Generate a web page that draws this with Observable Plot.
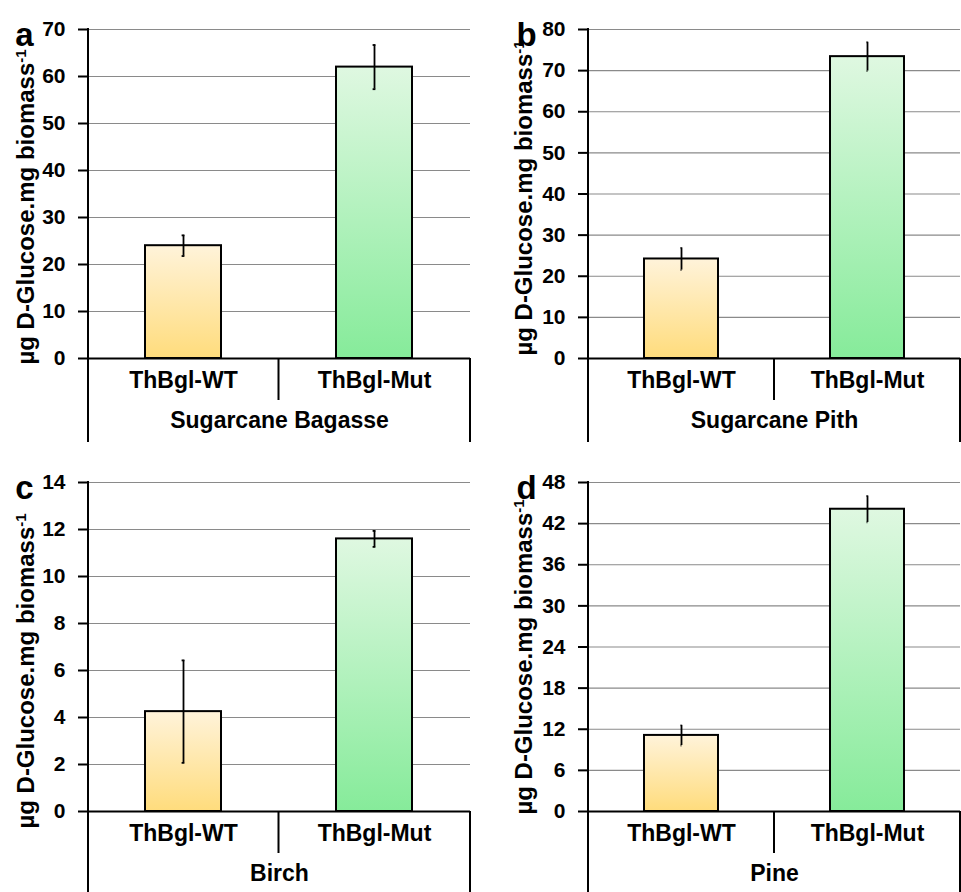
<!DOCTYPE html>
<html>
<head>
<meta charset="utf-8">
<script src="https://cdn.jsdelivr.net/npm/d3@7"></script>
<script src="https://cdn.jsdelivr.net/npm/@observablehq/plot@0.6"></script>
<style>
  html, body { margin: 0; padding: 0; background: #fff; overflow: hidden; }
  #wrap { position: relative; width: 961px; height: 892px; overflow: hidden; }
  .panel { position: absolute; }
  .panel svg { max-width: none !important; }
</style>
</head>
<body>
<div id="wrap"></div>
<script>
// ---- data ----
const categories = ["ThBgl-WT", "ThBgl-Mut"];
const substrates = ["Sugarcane Bagasse", "Sugarcane Pith", "Birch", "Pine"];
const panelLetters = ["a", "b", "c", "d"];
const wtMeans = [24.0, 24.2, 4.25, 11.1];
const wtErrors = [2.2, 2.7, 2.18, 1.47];
const mutMeans = [62.0, 73.4, 11.6, 44.1];
const mutErrors = [4.7, 3.5, 0.34, 1.93];
const yTicksA = [0, 10, 20, 30, 40, 50, 60, 70];
const yTicksB = [0, 10, 20, 30, 40, 50, 60, 70, 80];
const yTicksC = [0, 2, 4, 6, 8, 10, 12, 14];
const yTicksD = [0, 6, 12, 18, 24, 30, 36, 42, 48];
const yTicks = [yTicksA, yTicksB, yTicksC, yTicksD];
const yLabel = "µg D-Glucose.mg biomass";
const yLabelSup = "-1";
const gradWT = ["#fff3da", "#ffdc7c"];
const gradMut = ["#dff8e1", "#86eb9a"];

// ---- layout ----
const layout = [
  {left: 0,   top: 0,   width: 480, height: 446, mt: 29, mb: 88, ml: 88,  lineInset: 4, labDx: -62, labDy: 13, letDx: -64},
  {left: 480, top: 0,   width: 490, height: 446, mt: 29, mb: 88, ml: 108, lineInset: 4, labDx: -64, labDy: 4,  letDx: -62},
  {left: 0,   top: 450, width: 480, height: 442, mt: 32, mb: 81, ml: 88,  lineInset: 0, labDx: -62, labDy: 24, letDx: -64},
  {left: 480, top: 450, width: 490, height: 442, mt: 32, mb: 81, ml: 108, lineInset: 0, labDx: -64, labDy: 10, letDx: -62}
];

const FONT = "'Liberation Sans', Arial, Helvetica, sans-serif";

function gradientDefs(id) {
  return () => {
    const defs = d3.create("svg:defs");
    [[`${id}-wt`, gradWT], [`${id}-mut`, gradMut]].forEach(([gid, cols]) => {
      const g = defs.append("linearGradient").attr("id", gid)
        .attr("x1", 0).attr("y1", 0).attr("x2", 0).attr("y2", 1);
      g.append("stop").attr("offset", "0%").attr("stop-color", cols[0]);
      g.append("stop").attr("offset", "100%").attr("stop-color", cols[1]);
    });
    return defs.node();
  };
}

function frameLines(lineInset) {
  return (index, scales, values, dims) => {
    const x = scales.x, y = scales.y;
    const y0 = y(0);
    const left = dims.marginLeft;
    const right = dims.width - dims.marginRight;
    const bottom = dims.height - lineInset;
    const mid = (x(categories[0]) + x.bandwidth() + x(categories[1])) / 2;
    const g = d3.create("svg:g").attr("stroke", "black").attr("stroke-width", 2).attr("fill", "none");
    g.append("line").attr("x1", left).attr("x2", left).attr("y1", dims.marginTop - 1).attr("y2", bottom);
    g.append("line").attr("x1", right).attr("x2", right).attr("y1", y0).attr("y2", bottom);
    g.append("line").attr("x1", mid).attr("x2", mid).attr("y1", y0).attr("y2", y0 + 42);
    return g.node();
  };
}

const wrap = document.getElementById("wrap");

for (let i = 0; i < 4; i++) {
  const L = layout[i];
  const id = "g" + panelLetters[i];
  const data = [
    {cat: categories[0], value: wtMeans[i], err: wtErrors[i]},
    {cat: categories[1], value: mutMeans[i], err: mutErrors[i]}
  ];
  const ticks = yTicks[i];
  const chart = Plot.plot({
    width: L.width,
    height: L.height,
    marginTop: L.mt,
    marginBottom: L.mb,
    marginLeft: L.ml,
    marginRight: 10,
    style: {fontFamily: FONT, fontWeight: "bold", color: "black", background: "transparent", overflow: "visible", maxWidth: "none"},
    x: {type: "band", domain: categories, paddingInner: 0.6, paddingOuter: 0.3, axis: null},
    y: {domain: [ticks[0], ticks[ticks.length - 1]]},
    color: {type: "ordinal", domain: categories, range: [`url(#${id}-wt)`, `url(#${id}-mut)`]},
    marks: [
      gradientDefs(id),
      Plot.gridY(ticks, {stroke: "#8a8a8a", strokeOpacity: 1, strokeWidth: 1.2}),
      Plot.barY(data, {x: "cat", y: "value", fill: "cat", stroke: "black", strokeWidth: 2}),
      Plot.ruleX(data, {x: "cat", y1: d => d.value - d.err, y2: d => d.value + d.err, stroke: "black", strokeWidth: 1.8}),
      Plot.tickY(data, {x: "cat", y: d => d.value - d.err, stroke: "black", strokeWidth: 1.8, insetLeft: 36.6, insetRight: 36.6}),
      Plot.tickY(data, {x: "cat", y: d => d.value + d.err, stroke: "black", strokeWidth: 1.8, insetLeft: 36.6, insetRight: 36.6}),
      Plot.ruleY([0], {stroke: "black", strokeWidth: 2}),
      Plot.axisY({ticks, tickSize: 10, tickPadding: 13, fontSize: 21, strokeWidth: 2, stroke: "black", label: null}),
      frameLines(L.lineInset),
      Plot.text(categories, {x: d => d, frameAnchor: "bottom", dy: 29, fontSize: 23, fill: "black"}),
      Plot.text([substrates[i]], {frameAnchor: "bottom", dy: 69, fontSize: 23, fill: "black"}),
      Plot.text([panelLetters[i]], {frameAnchor: "top-left", textAnchor: "middle", dx: L.letDx, dy: -7, fontSize: 33, fill: "black"}),
      Plot.text([yLabel], {frameAnchor: "left", textAnchor: "middle", rotate: -90, dx: L.labDx, dy: L.labDy, fontSize: 24, fill: "black", className: "ylab-" + id})
    ]
  });
  // superscript on the y label
  const t = d3.select(chart).select(".ylab-" + id + " text");
  if (!t.empty()) {
    t.text(yLabel);
    t.append("tspan").attr("dy", "-0.55em").attr("font-size", "15").text(yLabelSup);
  }
  const div = document.createElement("div");
  div.className = "panel";
  div.style.left = L.left + "px";
  div.style.top = L.top + "px";
  div.style.width = L.width + "px";
  div.style.height = L.height + "px";
  div.appendChild(chart);
  wrap.appendChild(div);
}
</script>
</body>
</html>
